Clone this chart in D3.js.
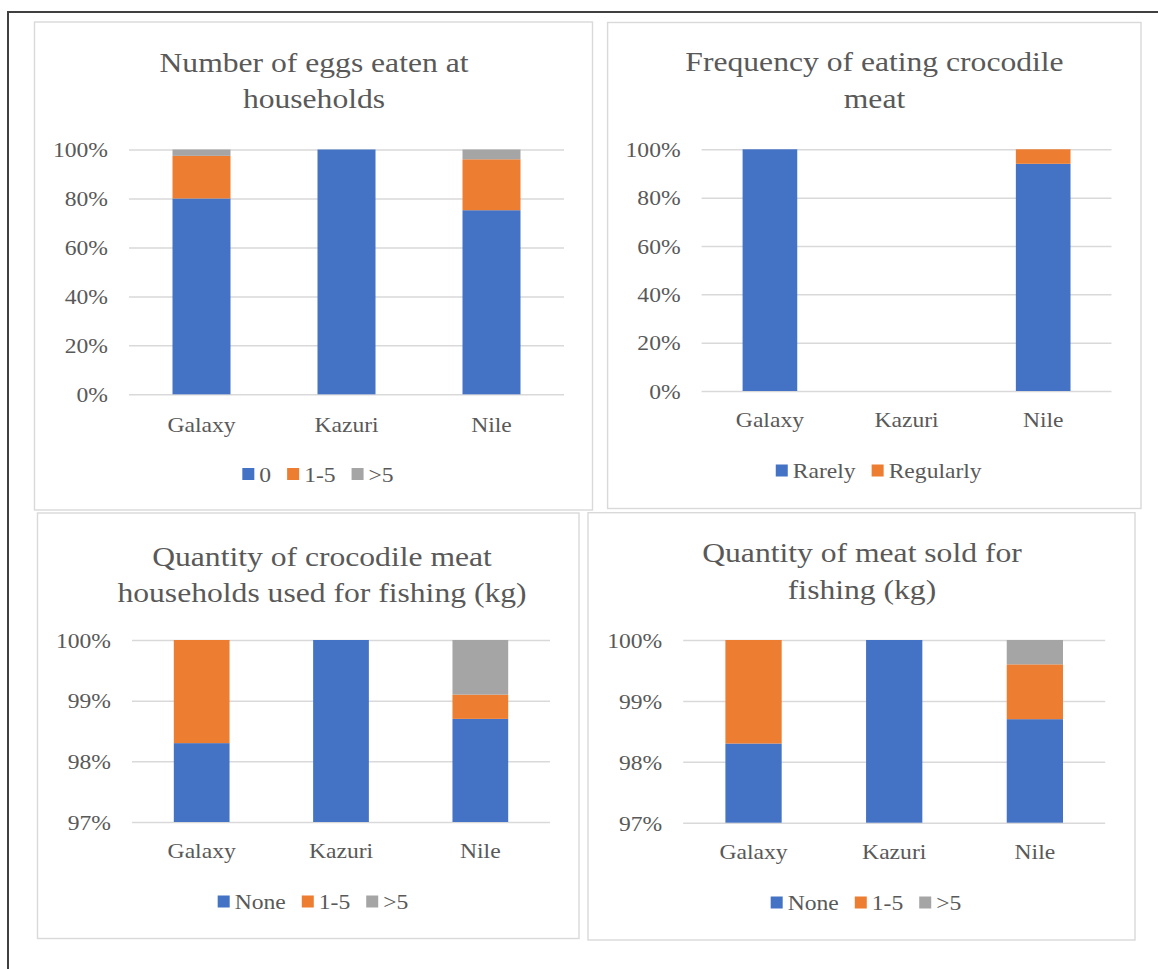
<!DOCTYPE html>
<html>
<head>
<meta charset="utf-8">
<script src="https://cdn.jsdelivr.net/npm/d3@7"></script>
<style>
  html, body { margin: 0; padding: 0; background: #fff; }
  svg { display: block; }
  text { font-family: "Liberation Serif", "Times New Roman", serif; fill: #595959; }
</style>
</head>
<body>
<svg id="fig" width="1158" height="969"></svg>
<script>
// ---- data (percent of households) ----
const sites = ["Galaxy", "Kazuri", "Nile"];

// Number of eggs eaten at households
const eggsZero   = [80.0, 100, 75.2];
const eggs1to5   = [17.4,   0, 20.8];
const eggsOver5  = [ 2.6,   0,  4.0];

// Frequency of eating crocodile meat
const eatRarely    = [100, 0, 94.0];
const eatRegularly = [  0, 0,  6.0];

// Quantity of crocodile meat households used for fishing (kg)
const usedNone   = [98.3, 100, 98.7];
const used1to5   = [ 1.7,   0,  0.4];
const usedOver5  = [ 0.0,   0,  0.9];

// Quantity of meat sold for fishing (kg)
const soldNone   = [98.3, 100, 98.7];
const sold1to5   = [ 1.7,   0,  0.9];
const soldOver5  = [ 0.0,   0,  0.4];

// tick values
const fullTicks = [0, 20, 40, 60, 80, 100];
const zoomTicks = [97, 98, 99, 100];

const BLUE = "#4472C4", ORANGE = "#ED7D31", GREY = "#A5A5A5";
const TEXT_SX = 1.18;           // horizontal text stretch
const FONT_AXIS = 20, FONT_TITLE = 26.8;

const svg = d3.select("#fig");

// outer frame
svg.append("path")
  .attr("d", "M8,969 V12 H1158")
  .attr("fill", "none").attr("stroke", "#404040").attr("stroke-width", 2);

function stretchText(sel, x, y) {
  return sel.attr("x", 0).attr("y", 0)
    .attr("transform", `translate(${x},${y}) scale(${TEXT_SX},1)`);
}

function drawPanel(cfg) {
  const g = svg.append("g");

  // panel border
  g.append("rect")
    .attr("x", cfg.box[0]).attr("y", cfg.box[1])
    .attr("width", cfg.box[2] - cfg.box[0]).attr("height", cfg.box[3] - cfg.box[1])
    .attr("fill", "#fff").attr("stroke", "#d9d9d9").attr("stroke-width", 1.4);

  // title
  cfg.title.forEach((line, i) => {
    g.append("text").text(line)
      .attr("text-anchor", "middle")
      .style("font-size", FONT_TITLE + "px")
      .call(stretchText, cfg.titleCx, cfg.titleBase[i]);
  });

  const x = d3.scaleBand().domain(sites)
    .range([cfg.plot.x0, cfg.plot.x1])
    .paddingInner(0.6).paddingOuter(0.3);
  const y = d3.scaleLinear().domain(cfg.domain)
    .range([cfg.plot.yBottom, cfg.plot.yTop]).clamp(true);

  // gridlines + y tick labels
  const yAxis = d3.axisLeft(y).tickValues(cfg.ticks)
    .tickSize(-(cfg.plot.x1 - cfg.plot.x0))
    .tickFormat(d => d + "%");
  const ya = g.append("g")
    .attr("transform", `translate(${cfg.plot.x0},0)`)
    .call(yAxis);
  ya.select(".domain").remove();
  ya.selectAll(".tick line").attr("stroke", "#d9d9d9").attr("stroke-width", 1.5);
  ya.selectAll(".tick text")
    .attr("dy", null)
    .attr("text-anchor", "end")
    .style("font-size", FONT_AXIS + "px")
    .attr("font-family", null)
    .call(stretchText, -21, 7.3);
  ya.attr("font-size", null).attr("font-family", null);

  // stacked bars
  const rows = sites.map((s, i) => {
    const r = { site: s };
    cfg.keys.forEach((k, j) => r[k] = cfg.series[j][i]);
    return r;
  });
  const stacked = d3.stack().keys(cfg.keys)(rows);
  g.append("g").selectAll("g").data(stacked).join("g")
    .attr("fill", (d, i) => cfg.colors[i])
    .selectAll("rect").data(d => d).join("rect")
      .attr("x", d => x(d.data.site))
      .attr("width", x.bandwidth())
      .attr("y", d => y(d[1]))
      .attr("height", d => Math.max(0, y(d[0]) - y(d[1])));

  // category labels
  const xa = g.append("g")
    .attr("transform", `translate(0,${cfg.plot.yBottom})`)
    .call(d3.axisBottom(x).tickSize(0));
  xa.select(".domain").remove();
  xa.attr("font-size", null).attr("font-family", null);
  xa.selectAll(".tick text")
    .attr("dy", null)
    .style("font-size", FONT_AXIS + "px")
    .call(stretchText, 0, cfg.xLabelOffset);

  // legend
  const lg = g.append("g");
  const items = cfg.legend.map((label, i) => {
    const it = lg.append("g");
    it.append("rect")
      .attr("x", 0).attr("y", cfg.legendBase - 13.5)
      .attr("width", 12).attr("height", 12)
      .attr("fill", cfg.colors[i]);
    const t = it.append("text").text(label)
      .style("font-size", FONT_AXIS + "px")
      .call(stretchText, 17, cfg.legendBase);
    const w = 17 + t.node().getComputedTextLength() * TEXT_SX;
    return { it, w };
  });
  const gap = 16;
  const total = d3.sum(items, d => d.w) + gap * (items.length - 1);
  let cx = cfg.legendCx - total / 2;
  items.forEach(d => {
    d.it.attr("transform", `translate(${cx},0)`);
    cx += d.w + gap;
  });
}

drawPanel({
  box: [34.5, 22, 592.5, 510],
  title: ["Number of eggs eaten at", "households"],
  titleCx: 314, titleBase: [71.7, 108.3],
  plot: { x0: 129, x1: 564, yTop: 149.5, yBottom: 394.3 },
  domain: [0, 100], ticks: fullTicks,
  keys: ["0", "1-5", ">5"],
  series: [eggsZero, eggs1to5, eggsOver5],
  colors: [BLUE, ORANGE, GREY],
  legend: ["0", "1-5", ">5"],
  xLabelOffset: 37.2,
  legendCx: 318, legendBase: 481.5
});

drawPanel({
  box: [607.6, 22.5, 1141, 508.5],
  title: ["Frequency of eating crocodile", "meat"],
  titleCx: 874.5, titleBase: [71, 108],
  plot: { x0: 701.6, x1: 1111.5, yTop: 149.3, yBottom: 391 },
  domain: [0, 100], ticks: fullTicks,
  keys: ["Rarely", "Regularly"],
  series: [eatRarely, eatRegularly],
  colors: [BLUE, ORANGE],
  legend: ["Rarely", "Regularly"],
  xLabelOffset: 35.8,
  legendCx: 878.7, legendBase: 478
});

drawPanel({
  box: [37.5, 513, 579, 938.5],
  title: ["Quantity of crocodile meat", "households used for fishing (kg)"],
  titleCx: 322, titleBase: [565.7, 601.7],
  plot: { x0: 132, x1: 550, yTop: 640, yBottom: 822 },
  domain: [97, 100], ticks: zoomTicks,
  keys: ["None", "1-5", ">5"],
  series: [usedNone, used1to5, usedOver5],
  colors: [BLUE, ORANGE, GREY],
  legend: ["None", "1-5", ">5"],
  xLabelOffset: 36,
  legendCx: 313, legendBase: 909
});

drawPanel({
  box: [588, 512.7, 1135, 940],
  title: ["Quantity of meat sold for", "fishing (kg)"],
  titleCx: 862, titleBase: [562.3, 599],
  plot: { x0: 683.2, x1: 1105.2, yTop: 640, yBottom: 822.7 },
  domain: [97, 100], ticks: zoomTicks,
  keys: ["None", "1-5", ">5"],
  series: [soldNone, sold1to5, soldOver5],
  colors: [BLUE, ORANGE, GREY],
  legend: ["None", "1-5", ">5"],
  xLabelOffset: 36.3,
  legendCx: 866, legendBase: 910
});
</script>
</body>
</html>
